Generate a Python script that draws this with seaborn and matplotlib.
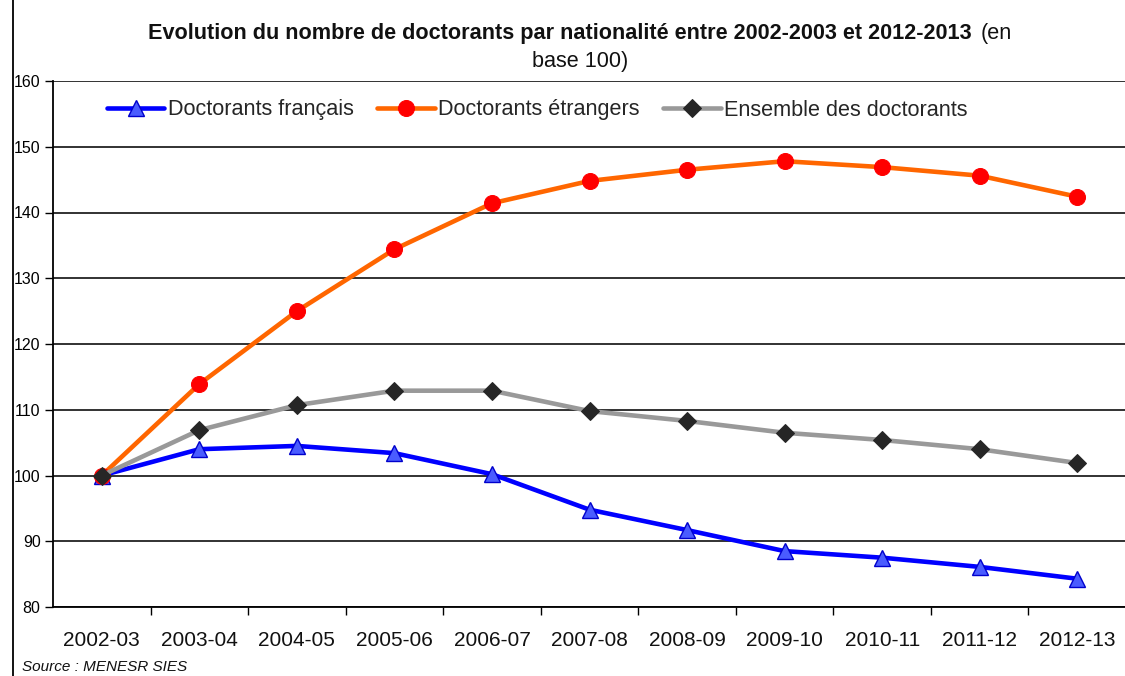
import pandas as pd
import matplotlib
matplotlib.use('Agg')
import matplotlib.pyplot as plt
import seaborn as sns
from matplotlib.lines import Line2D

# Values (base 100 in 2002-03)
years = ['2002-03', '2003-04', '2004-05', '2005-06', '2006-07', '2007-08',
         '2008-09', '2009-10', '2010-11', '2011-12', '2012-13']
francais = [100, 104.0, 104.5, 103.4, 100.2, 94.8, 91.7, 88.5, 87.5, 86.1, 84.3]
etrangers = [100, 113.9, 125.0, 134.4, 141.4, 144.8, 146.5, 147.8, 146.9, 145.6, 142.4]
ensemble = [100, 106.9, 110.7, 112.9, 112.9, 109.8, 108.3, 106.5, 105.4, 104.0, 101.9]
y_ticks = [80, 90, 100, 110, 120, 130, 140, 150, 160]

sns.set_style('white')
plt.rcParams['font.family'] = ['Liberation Sans', 'DejaVu Sans']

W, H = 1125, 676
fig = plt.figure(figsize=(W / 100, H / 100), dpi=100)
ax = fig.add_axes([53 / W, 1 - 607 / H, (1126 - 53) / W, (607 - 81) / H])

pos = list(range(len(years)))
sns.lineplot(x=pos, y=francais, ax=ax, color='#0000ff', linewidth=3.3,
             marker='^', markersize=11, markerfacecolor='#4a5cff',
             markeredgecolor='#0000cc', markeredgewidth=1,
             label='Doctorants français', zorder=3)
sns.lineplot(x=pos, y=etrangers, ax=ax, color='#ff6600', linewidth=3.3,
             marker='o', markersize=11.5, markerfacecolor='#ff0000',
             markeredgecolor='#ff0000', label='Doctorants étrangers', zorder=3)
sns.lineplot(x=pos, y=ensemble, ax=ax, color='#999999', linewidth=3.3,
             marker='D', markersize=9.5, markerfacecolor='#262626',
             markeredgecolor='#262626', label='Ensemble des doctorants', zorder=3)

ax.set_xlim(-0.5, len(years) - 0.5)
ax.set_ylim(80, 160)
ax.set_yticks(y_ticks)
ax.set_xticks(pos)
ax.set_xticklabels(years, fontsize=15)
ax.set_xticks([p + 0.5 for p in pos[:-1]], minor=True)
ax.tick_params(axis='x', which='major', length=0, pad=17, colors='#111111')
ax.tick_params(axis='x', which='minor', length=6, width=1, direction='out',
               color='black', bottom=True)
ax.tick_params(axis='y', length=6, width=1, direction='out', left=True,
               labelsize=11.5, pad=3, colors='black')
ax.grid(axis='y', color='#222222', linewidth=1.3)
ax.set_axisbelow(True)
for s in ['top', 'right']:
    ax.spines[s].set_visible(False)
for s in ['left', 'bottom']:
    ax.spines[s].set_color('black')
    ax.spines[s].set_linewidth(1.3)
ax.set_xlabel('')
ax.set_ylabel('')

ax.legend(loc='center left', bbox_to_anchor=(107 / W, 1 - 110 / H),
          bbox_transform=fig.transFigure, ncol=3, frameon=False, fontsize=15.6,
          handlelength=2.65, handletextpad=0.15, columnspacing=1.1,
          borderaxespad=0, borderpad=0)

# title: bold part plus normal part
fig.text(148 / W, 1 - 33 / H, 'Evolution du nombre de doctorants par nationalité '
         'entre 2002-2003 et 2012-2013', fontsize=15.6, fontweight='bold',
         ha='left', va='center', color='#111111')
fig.text(981 / W, 1 - 33 / H, '(en', fontsize=15.6, ha='left', va='center',
         color='#111111')
fig.text(580 / W, 1 - 62 / H, 'base 100)', fontsize=15.6, ha='center',
         va='center', color='#111111')

fig.text(22 / W, 1 - 660 / H, 'Source : MENESR SIES', fontsize=11,
         style='italic', ha='left', va='top', color='#111111')

# frame line on the left of the picture
fig.add_artist(Line2D([13 / W, 13 / W], [0, 1], transform=fig.transFigure,
                      color='black', linewidth=1.3))

fig.savefig('out.png', dpi=100)
